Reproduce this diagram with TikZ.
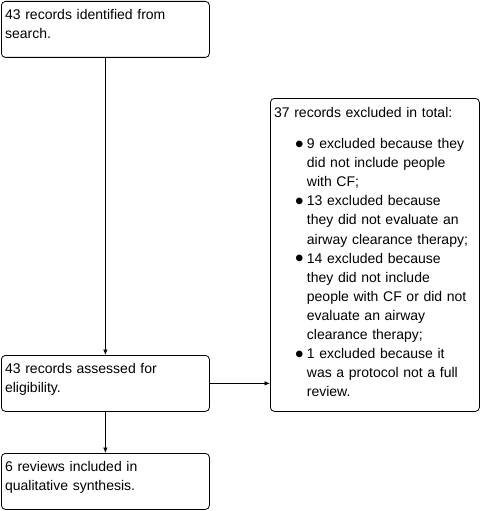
\documentclass[tikz,border=0pt]{standalone}
\usepackage{fontspec}
\setmainfont{Liberation Sans}
\usetikzlibrary{arrows.meta}
\tikzset{
  box/.style={draw, line width=0.8pt, rounded corners=4pt, anchor=north west,
    align=left, inner xsep=3.7pt, inner ysep=4pt, text width=200.6pt,
    text height=14.3pt, text depth=33.7pt,
    font=\fontsize{14}{19.2}\selectfont},
  arr/.style={draw, line width=0.8pt, -{Latex[length=5.5pt,width=4.5pt]}},
}
% bigger bullet, lowered to the middle of the line
\newcommand{\bul}{\makebox[10.5pt][l]{\hspace{-1.3pt}%
  \raisebox{-3.5pt}{\fontsize{24.4}{0}\selectfont\textbullet}}}

\begin{document}
\begin{tikzpicture}[x=1pt,y=-1pt]
    \useasboundingbox (0,0) rectangle (480,511);
    \node [box] (ident) at (1,1)
      {43 records identified from\\ search.};
    \node [box] (assess) at (1,355)
      {43 records assessed for\\ eligibility.};
    \node [box] (incl) at (1,453)
      {6 reviews included in\\ qualitative synthesis.};
    \node [box, text width=201.6pt, text height=15pt, text depth=290pt,
      font=\fontsize{14}{19.1}\selectfont]
      (excl) at (270,98)
      {37 records excluded in total:\\[12pt]
       \begin{tabular}[t]{@{\hspace{22.3pt}}l@{}l@{}}
         \bul & 9 excluded because they\\
              & did not include people\\
              & with CF;\\
         \bul & 13 excluded because\\
              & they did not evaluate an\\
              & airway clearance therapy;\\
         \bul & 14 excluded because\\
              & they did not include\\
              & people with CF or did not\\
              & evaluate an airway\\
              & clearance therapy;\\
         \bul & 1 excluded because it\\
              & was a protocol not a full\\
              & review.
       \end{tabular}};
    \draw [arr] (ident) -- (assess);
    \draw [arr] (assess) -- (incl);
    \draw [arr] (assess.east) -- (assess.east -| excl.west);
\end{tikzpicture}
\end{document}
